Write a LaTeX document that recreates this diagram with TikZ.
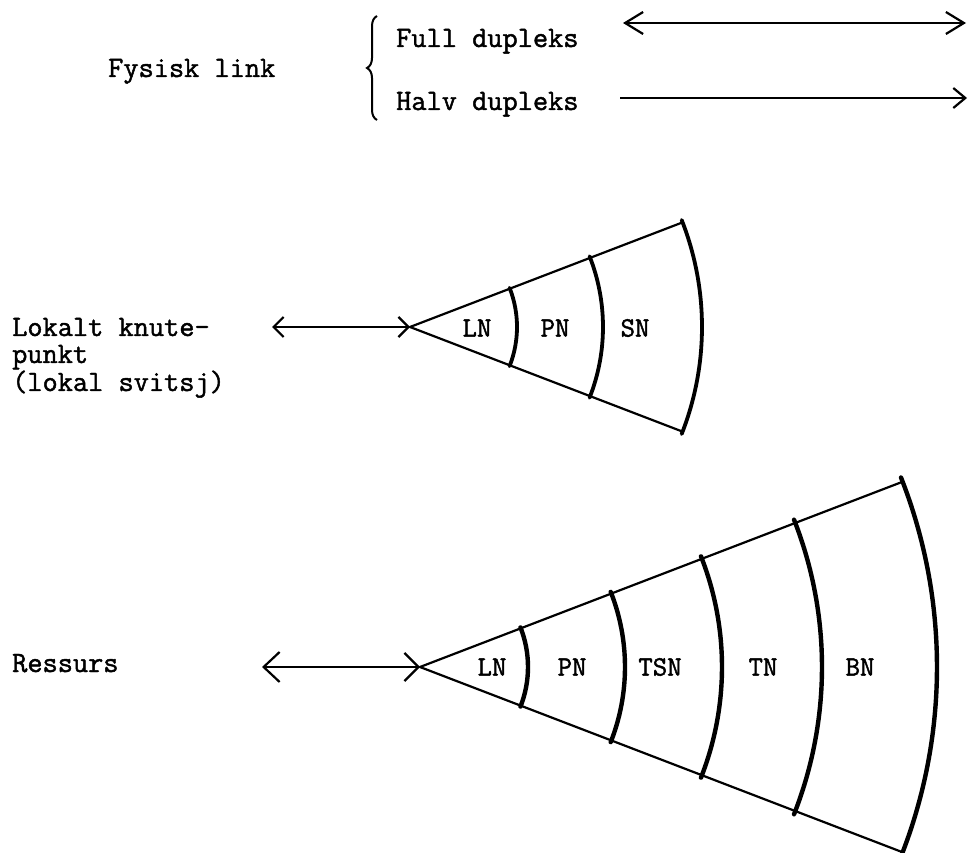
\documentclass[tikz,border=0pt]{standalone}
\usepackage{fontspec}
\newfontfamily\typew{Latin Modern Mono}[FakeBold=1.5]
\usetikzlibrary{arrows.meta,decorations.pathreplacing}
\begin{document}
\begin{tikzpicture}[x=1pt,y=1pt,
  txt/.style={font=\typew\fontsize{29.5}{27}\selectfont, inner sep=0pt, anchor=base west, align=left},
  seg/.style={font=\typew\fontsize{28}{28}\selectfont, inner sep=0pt},
  ray/.style={line width=2.2pt, line cap=round},
  ring/.style={line width=3.8pt, line cap=round},
  thickring/.style={line width=4.4pt, line cap=round},
  link/.style={line width=2.2pt},
  bigtip/.style={arrows={Straight Barb[length=18pt,width=22pt]-Straight Barb[length=18pt,width=22pt]}},
  halftip/.style={arrows={-Straight Barb[length=12pt,width=20pt]}}]
\useasboundingbox (0,0) rectangle (968,852);

% --- physical link types ---
\node[txt] (fys) at (108,775) {Fysisk link};
\node[txt] (full) at (396,805) {Full dupleks};
\node[txt] (halv) at (396,742) {Halv dupleks};
\draw[line width=2pt, decorate, decoration={brace, amplitude=10pt}]
  (377,732) -- (377,836);
\coordinate (fullL) at (623,829);
\coordinate (fullR) at (966,829);
\coordinate (halvL) at (620,754);
\coordinate (halvR) at (967,754);
\draw[link, bigtip] (fullL) -- (fullR);
\draw[link, halftip] (halvL) -- (halvR);

% --- local node (local switch) ---
\node[txt] (lk) at (12,461) {Lokalt knute-\\punkt\\(lokal svitsj)};
\coordinate (A1) at (410,525);
\coordinate (A1in) at (272,525);
\draw[link, arrows={Straight Barb[length=10pt,width=20pt]-Straight Barb[length=10pt,width=20pt]}] (A1in) -- (A1);
\draw[ray] (A1) -- ++(21:292);
\draw[ray] (A1) -- ++(-21:292);
\foreach \r in {107,193,292}
  \draw[ring] (A1) ++(-21.5:\r) arc[start angle=-21.5, end angle=21.5, radius=\r];
\node[seg] (ln1) at (477,524) {LN};
\node[seg] (pn1) at (555,524) {PN};
\node[seg] (sn1) at (635,524) {SN};

% --- resource ---
\node[txt] (res) at (12,180) {Ressurs};
\coordinate (A2) at (420,185);
\coordinate (A2in) at (262,185);
\draw[link, arrows={Straight Barb[length=16pt,width=30pt]-Straight Barb[length=14pt,width=28pt]}] (A2in) -- (A2);
\draw[ray] (A2) -- ++(21:517);
\draw[ray] (A2) -- ++(-21:517);
\foreach \r in {108,205,302,402,517}
  \draw[thickring] (A2) ++(-21.5:\r) arc[start angle=-21.5, end angle=21.5, radius=\r];
\node[seg] (ln2) at (492,185) {LN};
\node[seg] (pn2) at (572,185) {PN};
\node[seg] (tsn2) at (660,185) {TSN};
\node[seg] (tn2) at (763,185) {TN};
\node[seg] (bn2) at (860,185) {BN};
\end{tikzpicture}
\end{document}
